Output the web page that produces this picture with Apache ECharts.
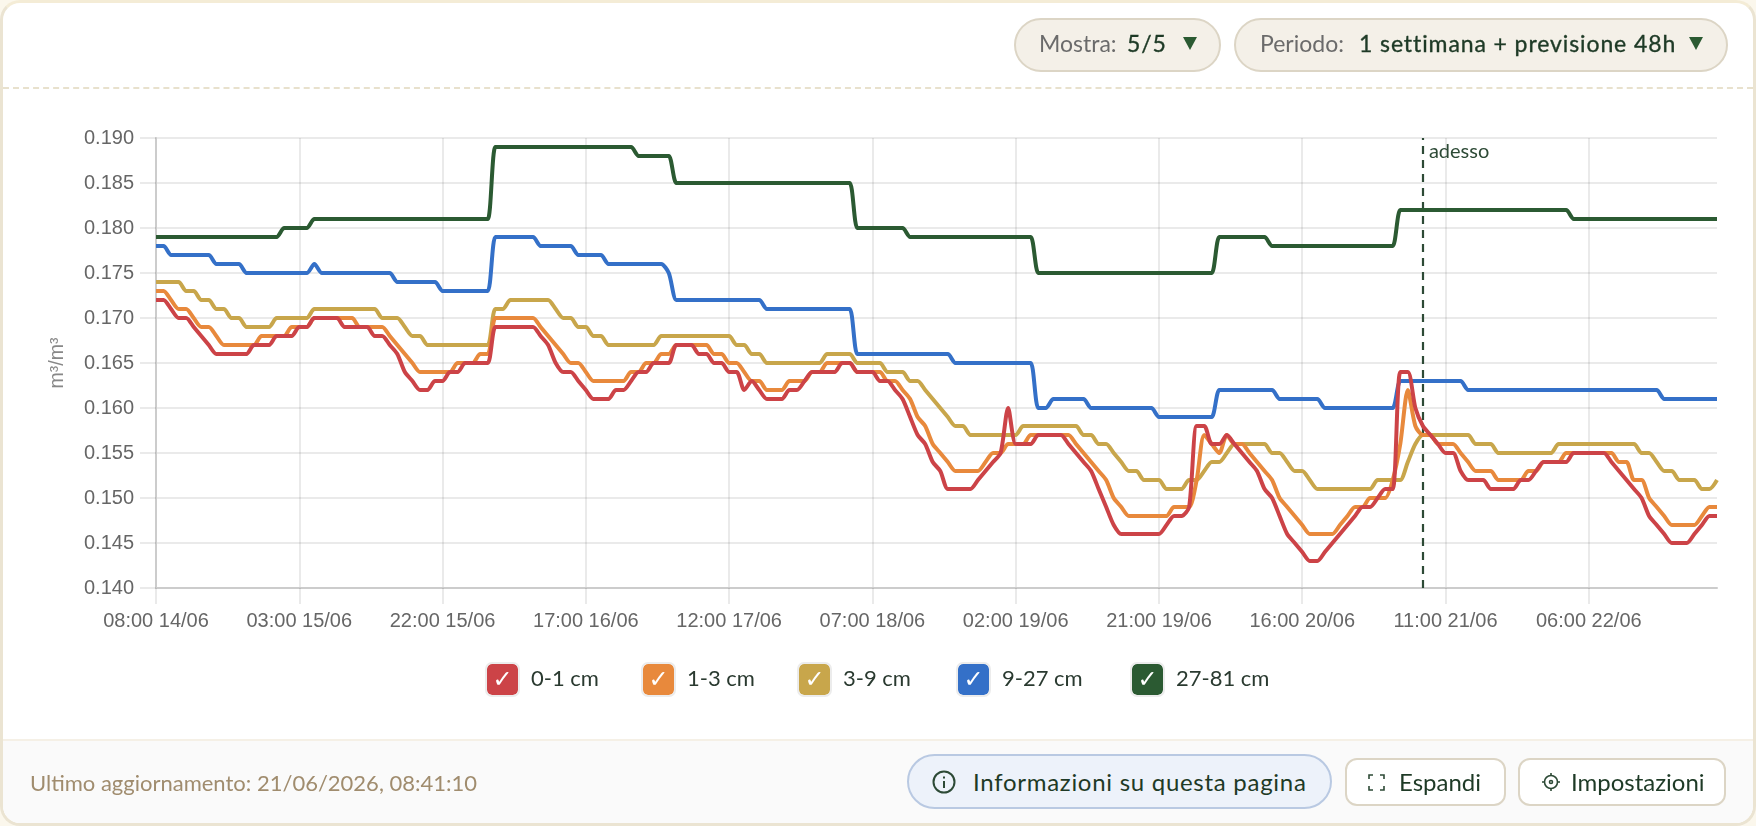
<!DOCTYPE html>
<html>
<head>
<meta charset="utf-8">
<title>Umidità del suolo</title>
<script src="https://cdn.jsdelivr.net/npm/echarts@6/dist/echarts.min.js"></script>
<style>
  html, body { margin: 0; padding: 0; width: 1756px; height: 826px; overflow: hidden; background: #fbf7ec; font-family: Lato, sans-serif; }
  #card { position: absolute; left: 0; top: 0; width: 1756px; height: 826px; box-sizing: border-box; background: #fff; border: 3px solid #ebe4d2; border-top-color: #f4ecd6; border-radius: 20px; overflow: hidden; }
  #headerLine { position: absolute; left: 0; right: 0; top: 84px; border-top: 2px dashed #e8e1cd; }
  #footer { position: absolute; left: 0; right: 0; top: 736px; bottom: 0; background: #fafafa; border-top: 2px solid #f5f0e6; }
  #chartContainer { position: absolute; left: 0; top: 0; width: 1756px; height: 826px; }
  .box { position: absolute; box-sizing: border-box; }
  .txt { position: absolute; white-space: nowrap; line-height: 1; }
  .pill { background: #f4f0e8; border: 2px solid #dcd5c5; border-radius: 27px; top: 18px; height: 54px; }
  .lab { color: #6b6b6b; font-size: 23px; top: 32px; }
  .val { color: #1e3a26; font-size: 23px; top: 32px; -webkit-text-stroke: 0.35px #1e3a26; letter-spacing: 0.9px; }
  .tri { position: absolute; top: 37px; width: 0; height: 0; border-left: 7px solid transparent; border-right: 7px solid transparent; border-top: 13px solid #2b5a32; }
  .btn { background: #fff; border: 2px solid #dcd5c5; border-radius: 12px; top: 758px; height: 48px; }
  .btnTxt { color: #1e3a26; font-size: 24px; top: 770px; }
  .sq { position: absolute; top: 662px; width: 35px; height: 35px; box-sizing: border-box; border: 2px solid #ececec; border-radius: 7px; color: #fff; font: bold 24px "DejaVu Sans", sans-serif; text-align: center; line-height: 31px; background-clip: padding-box; }
  .legTxt { color: #2a3a30; font-size: 22px; top: 667px; }
</style>
</head>
<body>
<div id="card">
  <div id="headerLine"></div>
  <div id="footer"></div>
</div>
<div id="chartContainer"></div>

<div class="box pill" style="left:1014px;width:207px"></div>
<span class="txt lab" style="left:1039px">Mostra:</span>
<span class="txt val" style="left:1127px">5/5</span>
<div class="tri" style="left:1183px"></div>
<div class="box pill" style="left:1234px;width:494px"></div>
<span class="txt lab" style="left:1260px">Periodo:</span>
<span class="txt val" style="left:1359px">1 settimana + previsione 48h</span>
<div class="tri" style="left:1689px"></div>

<div id="legend"></div>

<span class="txt" style="left:30px;top:772px;font-size:22px;color:#a08c6e">Ultimo aggiornamento: 21/06/2026, 08:41:10</span>
<div class="box" style="left:907px;top:754px;width:425px;height:55px;background:#edf2fa;border:2px solid #b9c9e2;border-radius:28px"></div>
<svg style="position:absolute;left:932px;top:770px" width="24" height="24" viewBox="0 0 24 24" fill="none" stroke="#2d4a36" stroke-width="2"><circle cx="12" cy="12" r="10.5"/><path d="M12 11v7M12 6.5v2"/></svg>
<span class="txt btnTxt" style="left:973px;letter-spacing:0.72px">Informazioni su questa pagina</span>
<div class="box btn" style="left:1345px;width:161px"></div>
<svg style="position:absolute;left:1368px;top:774px" width="17" height="17" viewBox="0 0 17 17" fill="none" stroke="#2d4a36" stroke-width="1.6"><path d="M1 5V1h4M12 1h4v4M16 12v4h-4M5 16H1v-4"/></svg>
<span class="txt btnTxt" style="left:1399px">Espandi</span>
<div class="box btn" style="left:1518px;width:208px"></div>
<svg style="position:absolute;left:1541px;top:772px" width="20" height="20" viewBox="0 0 20 20" fill="none" stroke="#2d4a36" stroke-width="1.6"><circle cx="10" cy="10" r="6.5"/><circle cx="10" cy="10" r="1.5"/><path d="M10 1v2.5M10 16.5V19M1 10h2.5M16.5 10H19"/></svg>
<span class="txt btnTxt" style="left:1571px">Impostazioni</span>

<script>
  const seriesNames = ['0-1 cm', '1-3 cm', '3-9 cm', '9-27 cm', '27-81 cm'];
  const seriesColors = ['#cc4347', '#e8893c', '#c8a64b', '#3470c8', '#2b5a32'];

  // hourly readings, ten per row, from 08:00 14/06
  const depth0_1 = [
    0.172,0.172,0.171,0.170,0.170,0.169,0.168,0.167,0.166,0.166,
    0.166,0.166,0.166,0.167,0.167,0.167,0.168,0.168,0.168,0.169,
    0.169,0.170,0.170,0.170,0.170,0.169,0.169,0.169,0.169,0.168,
    0.168,0.167,0.166,0.164,0.163,0.162,0.162,0.163,0.163,0.164,
    0.164,0.165,0.165,0.165,0.165,0.169,0.169,0.169,0.169,0.169,
    0.169,0.168,0.167,0.165,0.164,0.164,0.163,0.162,0.161,0.161,
    0.161,0.162,0.162,0.163,0.164,0.164,0.165,0.165,0.165,0.167,
    0.167,0.167,0.166,0.166,0.165,0.165,0.164,0.164,0.162,0.163,
    0.162,0.161,0.161,0.161,0.162,0.162,0.163,0.164,0.164,0.164,
    0.164,0.165,0.165,0.164,0.164,0.164,0.163,0.163,0.162,0.161,
    0.159,0.157,0.156,0.154,0.153,0.151,0.151,0.151,0.151,0.152,
    0.153,0.154,0.155,0.160,0.156,0.156,0.156,0.157,0.157,0.157,
    0.157,0.156,0.155,0.154,0.153,0.151,0.149,0.147,0.146,0.146,
    0.146,0.146,0.146,0.146,0.147,0.148,0.148,0.149,0.158,0.158,
    0.156,0.156,0.157,0.156,0.155,0.154,0.153,0.151,0.150,0.148,
    0.146,0.145,0.144,0.143,0.143,0.144,0.145,0.146,0.147,0.148,
    0.149,0.149,0.150,0.151,0.151,0.164,0.164,0.160,0.158,0.157,
    0.156,0.155,0.155,0.153,0.152,0.152,0.152,0.151,0.151,0.151,
    0.151,0.152,0.152,0.153,0.154,0.154,0.154,0.154,0.155,0.155,
    0.155,0.155,0.155,0.154,0.153,0.152,0.151,0.150,0.148,0.147,
    0.146,0.145,0.145,0.145,0.146,0.147,0.148,0.148
  ];
  const depth1_3 = [
    0.173,0.173,0.172,0.171,0.171,0.170,0.169,0.169,0.168,0.167,
    0.167,0.167,0.167,0.167,0.168,0.168,0.168,0.168,0.169,0.169,
    0.169,0.170,0.170,0.170,0.170,0.170,0.170,0.169,0.169,0.169,
    0.169,0.168,0.167,0.166,0.165,0.164,0.164,0.164,0.164,0.164,
    0.165,0.165,0.165,0.166,0.166,0.170,0.170,0.170,0.170,0.170,
    0.170,0.169,0.168,0.167,0.166,0.165,0.165,0.164,0.163,0.163,
    0.163,0.163,0.163,0.164,0.164,0.165,0.165,0.166,0.166,0.167,
    0.167,0.167,0.167,0.167,0.166,0.166,0.165,0.165,0.164,0.163,
    0.163,0.162,0.162,0.162,0.163,0.163,0.163,0.164,0.164,0.165,
    0.165,0.165,0.165,0.164,0.164,0.164,0.164,0.163,0.163,0.162,
    0.161,0.159,0.158,0.156,0.155,0.154,0.153,0.153,0.153,0.153,
    0.154,0.155,0.155,0.156,0.156,0.156,0.157,0.157,0.157,0.157,
    0.157,0.157,0.156,0.155,0.154,0.153,0.152,0.150,0.149,0.148,
    0.148,0.148,0.148,0.148,0.148,0.149,0.149,0.149,0.152,0.157,
    0.156,0.155,0.157,0.156,0.156,0.155,0.154,0.153,0.152,0.150,
    0.149,0.148,0.147,0.146,0.146,0.146,0.146,0.147,0.148,0.149,
    0.149,0.150,0.150,0.150,0.152,0.156,0.162,0.158,0.157,0.157,
    0.156,0.156,0.156,0.155,0.154,0.153,0.153,0.153,0.152,0.152,
    0.152,0.152,0.153,0.153,0.154,0.154,0.154,0.155,0.155,0.155,
    0.155,0.155,0.155,0.155,0.154,0.154,0.152,0.152,0.150,0.149,
    0.148,0.147,0.147,0.147,0.147,0.148,0.149,0.149
  ];
  const depth3_9 = [
    0.174,0.174,0.174,0.174,0.173,0.173,0.172,0.172,0.171,0.171,
    0.170,0.170,0.169,0.169,0.169,0.169,0.170,0.170,0.170,0.170,
    0.170,0.171,0.171,0.171,0.171,0.171,0.171,0.171,0.171,0.171,
    0.170,0.170,0.170,0.169,0.168,0.168,0.167,0.167,0.167,0.167,
    0.167,0.167,0.167,0.167,0.167,0.171,0.171,0.172,0.172,0.172,
    0.172,0.172,0.172,0.171,0.170,0.170,0.169,0.169,0.168,0.168,
    0.167,0.167,0.167,0.167,0.167,0.167,0.167,0.168,0.168,0.168,
    0.168,0.168,0.168,0.168,0.168,0.168,0.168,0.167,0.167,0.166,
    0.166,0.165,0.165,0.165,0.165,0.165,0.165,0.165,0.165,0.166,
    0.166,0.166,0.166,0.165,0.165,0.165,0.165,0.164,0.164,0.164,
    0.163,0.163,0.162,0.161,0.160,0.159,0.158,0.158,0.157,0.157,
    0.157,0.157,0.157,0.157,0.157,0.158,0.158,0.158,0.158,0.158,
    0.158,0.158,0.158,0.157,0.157,0.156,0.156,0.155,0.154,0.153,
    0.153,0.152,0.152,0.152,0.151,0.151,0.151,0.152,0.152,0.153,
    0.154,0.154,0.155,0.156,0.156,0.156,0.156,0.156,0.155,0.155,
    0.154,0.153,0.153,0.152,0.151,0.151,0.151,0.151,0.151,0.151,
    0.151,0.151,0.152,0.152,0.152,0.152,0.154,0.156,0.157,0.157,
    0.157,0.157,0.157,0.157,0.157,0.156,0.156,0.156,0.155,0.155,
    0.155,0.155,0.155,0.155,0.155,0.155,0.156,0.156,0.156,0.156,
    0.156,0.156,0.156,0.156,0.156,0.156,0.156,0.155,0.155,0.154,
    0.153,0.153,0.152,0.152,0.152,0.151,0.151,0.152
  ];
  const depth9_27 = [
    0.178,0.178,0.177,0.177,0.177,0.177,0.177,0.177,0.176,0.176,
    0.176,0.176,0.175,0.175,0.175,0.175,0.175,0.175,0.175,0.175,
    0.175,0.176,0.175,0.175,0.175,0.175,0.175,0.175,0.175,0.175,
    0.175,0.175,0.174,0.174,0.174,0.174,0.174,0.174,0.173,0.173,
    0.173,0.173,0.173,0.173,0.173,0.179,0.179,0.179,0.179,0.179,
    0.179,0.178,0.178,0.178,0.178,0.178,0.177,0.177,0.177,0.177,
    0.176,0.176,0.176,0.176,0.176,0.176,0.176,0.176,0.175,0.172,
    0.172,0.172,0.172,0.172,0.172,0.172,0.172,0.172,0.172,0.172,
    0.172,0.171,0.171,0.171,0.171,0.171,0.171,0.171,0.171,0.171,
    0.171,0.171,0.171,0.166,0.166,0.166,0.166,0.166,0.166,0.166,
    0.166,0.166,0.166,0.166,0.166,0.166,0.165,0.165,0.165,0.165,
    0.165,0.165,0.165,0.165,0.165,0.165,0.165,0.160,0.160,0.161,
    0.161,0.161,0.161,0.161,0.160,0.160,0.160,0.160,0.160,0.160,
    0.160,0.160,0.160,0.159,0.159,0.159,0.159,0.159,0.159,0.159,
    0.159,0.162,0.162,0.162,0.162,0.162,0.162,0.162,0.162,0.161,
    0.161,0.161,0.161,0.161,0.161,0.160,0.160,0.160,0.160,0.160,
    0.160,0.160,0.160,0.160,0.160,0.163,0.163,0.163,0.163,0.163,
    0.163,0.163,0.163,0.163,0.162,0.162,0.162,0.162,0.162,0.162,
    0.162,0.162,0.162,0.162,0.162,0.162,0.162,0.162,0.162,0.162,
    0.162,0.162,0.162,0.162,0.162,0.162,0.162,0.162,0.162,0.162,
    0.161,0.161,0.161,0.161,0.161,0.161,0.161,0.161
  ];
  const depth27_81 = [
    0.179,0.179,0.179,0.179,0.179,0.179,0.179,0.179,0.179,0.179,
    0.179,0.179,0.179,0.179,0.179,0.179,0.179,0.180,0.180,0.180,
    0.180,0.181,0.181,0.181,0.181,0.181,0.181,0.181,0.181,0.181,
    0.181,0.181,0.181,0.181,0.181,0.181,0.181,0.181,0.181,0.181,
    0.181,0.181,0.181,0.181,0.181,0.189,0.189,0.189,0.189,0.189,
    0.189,0.189,0.189,0.189,0.189,0.189,0.189,0.189,0.189,0.189,
    0.189,0.189,0.189,0.189,0.188,0.188,0.188,0.188,0.188,0.185,
    0.185,0.185,0.185,0.185,0.185,0.185,0.185,0.185,0.185,0.185,
    0.185,0.185,0.185,0.185,0.185,0.185,0.185,0.185,0.185,0.185,
    0.185,0.185,0.185,0.180,0.180,0.180,0.180,0.180,0.180,0.180,
    0.179,0.179,0.179,0.179,0.179,0.179,0.179,0.179,0.179,0.179,
    0.179,0.179,0.179,0.179,0.179,0.179,0.179,0.175,0.175,0.175,
    0.175,0.175,0.175,0.175,0.175,0.175,0.175,0.175,0.175,0.175,
    0.175,0.175,0.175,0.175,0.175,0.175,0.175,0.175,0.175,0.175,
    0.175,0.179,0.179,0.179,0.179,0.179,0.179,0.179,0.178,0.178,
    0.178,0.178,0.178,0.178,0.178,0.178,0.178,0.178,0.178,0.178,
    0.178,0.178,0.178,0.178,0.178,0.182,0.182,0.182,0.182,0.182,
    0.182,0.182,0.182,0.182,0.182,0.182,0.182,0.182,0.182,0.182,
    0.182,0.182,0.182,0.182,0.182,0.182,0.182,0.182,0.181,0.181,
    0.181,0.181,0.181,0.181,0.181,0.181,0.181,0.181,0.181,0.181,
    0.181,0.181,0.181,0.181,0.181,0.181,0.181,0.181
  ];
  const seriesValues = [depth0_1, depth1_3, depth3_9, depth9_27, depth27_81];

  const nowLabel = '08:00 21/06';
  const yTicks = { min: 0.14, max: 0.19, step: 0.005 };

  // category labels, one per hour
  const categories = [];
  for (let i = 0; i < depth0_1.length; i++) {
    const d = new Date(2026, 5, 14, 8 + i);
    const p = (n) => String(n).padStart(2, '0');
    categories.push(`${p(d.getHours())}:00 ${p(d.getDate())}/${p(d.getMonth() + 1)}`);
  }

  // legend chips
  const legendX = [485, 641, 797, 956, 1130];
  const legendEl = document.getElementById('legend');
  seriesNames.forEach((name, i) => {
    legendEl.innerHTML += `<div class="sq" style="left:${legendX[i]}px;background-color:${seriesColors[i]}">✓</div>` +
      `<span class="txt legTxt" style="left:${legendX[i] + 46}px">${name}</span>`;
  });

  const chart = echarts.init(document.getElementById('chartContainer'), null, { renderer: 'canvas' });
  const axisFont = { color: '#666', fontFamily: '"Liberation Sans", Arial, sans-serif' };
  const gridStyle = { color: 'rgba(0,0,0,0.11)', width: 1.5 };

  // deepest first so the shallow layers sit on top
  const series = seriesNames.map((name, i) => ({
    name,
    type: 'line',
    data: seriesValues[i],
    smooth: 0.25,
    showSymbol: false,
    lineStyle: { color: seriesColors[i], width: 4 },
    itemStyle: { color: seriesColors[i] },
    z: 10 - i,
  })).reverse();

  series[series.length - 1].markLine = {
    silent: true,
    symbol: 'none',
    animation: false,
    lineStyle: { color: '#2d4a36', type: [8, 6], width: 2.2 },
    label: {
      show: true,
      formatter: 'adesso',
      position: 'end',
      rotate: 0,
      align: 'left',
      verticalAlign: 'top',
      offset: [6, 9],
      color: '#2d4a36',
      fontSize: 20,
      fontFamily: 'Lato, sans-serif',
    },
    data: [{ xAxis: nowLabel }],
  };

  chart.setOption({
    animation: false,
    tooltip: { trigger: 'axis' },
    grid: { left: 156, right: 39, top: 138, bottom: 238 },
    xAxis: {
      type: 'category',
      boundaryGap: false,
      data: categories,
      axisLine: { lineStyle: { color: '#ccc', width: 2 } },
      axisTick: { interval: 18, length: 16, lineStyle: gridStyle },
      axisLabel: { ...axisFont, fontSize: 20, interval: 18, margin: 23 },
      splitLine: { show: true, interval: 18, lineStyle: gridStyle },
    },
    yAxis: {
      type: 'value',
      min: yTicks.min,
      max: yTicks.max,
      interval: yTicks.step,
      name: 'm³/m³',
      nameLocation: 'middle',
      nameGap: 88,
      nameTextStyle: { color: '#888', fontSize: 19.5, fontFamily: axisFont.fontFamily },
      axisLine: { show: true, lineStyle: { color: '#ccc', width: 2 } },
      axisTick: { show: true, length: 16, lineStyle: gridStyle },
      axisLabel: { ...axisFont, fontSize: 20, margin: 22, formatter: (v) => v.toFixed(3) },
      splitLine: { show: true, lineStyle: gridStyle },
    },
    series,
  });
</script>
</body>
</html>
